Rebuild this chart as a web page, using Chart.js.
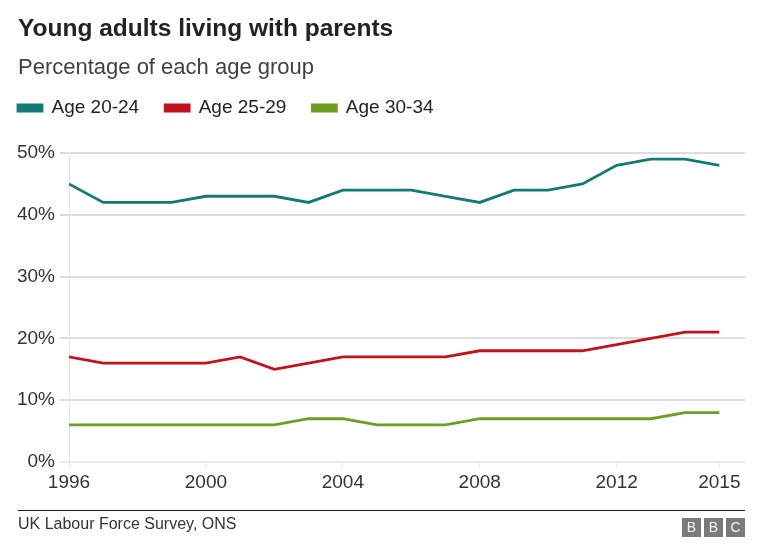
<!DOCTYPE html>
<html lang="en">
<head>
<meta charset="UTF-8" />
<title>Young adults living with parents</title>
<script src="https://cdn.jsdelivr.net/npm/chart.js"></script>
<style>
  html, body { margin: 0; padding: 0; background: #fff; }
  body { width: 770px; height: 550px; position: relative; overflow: hidden;
         font-family: "Liberation Sans", Arial, Helvetica, sans-serif; }
  #wrap { position: absolute; left: 0; top: 0; width: 770px; height: 550px; }
  .title { position: absolute; left: 18px; top: 16px; font-size: 24.5px; line-height: 24px;
           font-weight: bold; color: #222; white-space: nowrap; }
  .subtitle { position: absolute; left: 18px; top: 56px; font-size: 22px; line-height: 21px;
              color: #404040; white-space: nowrap; }
  .rule { position: absolute; left: 18px; top: 510px; width: 727px; height: 0;
          border-top: 1.5px solid #222; }
  .source { position: absolute; left: 18px; top: 516px; font-size: 16px; line-height: 16px;
            color: #333; white-space: nowrap; }
  .bbc { position: absolute; right: 25px; top: 518px; display: flex; gap: 3px; }
  .bbc span { width: 19px; height: 19px; background: #7a7a7a; color: #f4f4f4; font-size: 14px;
              line-height: 19px; text-align: center; }
</style>
</head>
<body>

<div id="wrap"><canvas id="parentsChart" width="770" height="550"></canvas></div>

<div class="title">Young adults living with parents</div>
<div class="subtitle">Percentage of each age group</div>
<div class="rule"></div>
<div class="source">UK Labour Force Survey, ONS</div>
<div class="bbc"><span>B</span><span>B</span><span>C</span></div>

<script>
  // data
  const years = [1996, 1997, 1998, 1999, 2000, 2001, 2002, 2003, 2004, 2005,
                 2006, 2007, 2008, 2009, 2010, 2011, 2012, 2013, 2014, 2015];
  const age2024 = [45, 42, 42, 42, 43, 43, 43, 42, 44, 44, 44, 43, 42, 44, 44, 45, 48, 49, 49, 48];
  const age2529 = [17, 16, 16, 16, 16, 17, 15, 16, 17, 17, 17, 17, 18, 18, 18, 18, 19, 20, 21, 21];
  const age3034 = [6, 6, 6, 6, 6, 6, 6, 7, 7, 6, 6, 6, 7, 7, 7, 7, 7, 7, 8, 8];
  const xTicks = [1996, 2000, 2004, 2008, 2012, 2015];
  const yTicks = [0, 10, 20, 30, 40, 50];

  const font = "'Liberation Sans', Arial, Helvetica, sans-serif";

  const toPoints = (vals) => vals.map((v, i) => ({ x: years[i], y: v }));

  function series(label, vals, colour) {
    return {
      label: label,
      data: toPoints(vals),
      borderColor: colour,
      backgroundColor: colour,
      borderWidth: 2.8,
      pointRadius: 0,
      tension: 0,
      fill: false
    };
  }

  // legend sits a little further left and leaves a gap above the plot
  const legendNudge = {
    id: 'legendNudge',
    beforeLayout(chart) {
      const lg = chart.legend;
      if (lg && !lg._nudged) {
        const fit = lg.fit;
        lg.fit = function () { fit.call(this); this.height += 25.5; };
        lg._nudged = true;
      }
    },
    beforeDraw(chart) {
      if (chart.legend) chart.legend.left = -8;
    }
  };

  new Chart(document.getElementById("parentsChart"), {
    type: 'line',
    data: {
      datasets: [
        series("Age 20-24", age2024, "#137a76"),
        series("Age 25-29", age2529, "#c4121c"),
        series("Age 30-34", age3034, "#6c9e22")
      ]
    },
    options: {
      responsive: false,
      animation: false,
      layout: { padding: { left: 0, right: 25, top: 72.5, bottom: 53.2 } },
      plugins: {
        legend: {
          display: true,
          position: 'top',
          align: 'start',
          labels: {
            boxWidth: 24,
            boxHeight: 6,
            padding: 26,
            color: '#222',
            font: { family: font, size: 19 }
          }
        },
        title: { display: false },
        tooltip: { enabled: false }
      },
      scales: {
        x: {
          type: 'linear',
          min: 1996,
          max: 2015.75,
          afterBuildTicks: (scale) => { scale.ticks = xTicks.map(v => ({ value: v })); },
          ticks: {
            callback: (v) => String(v),
            color: '#333',
            padding: 3,
            maxRotation: 0,
            autoSkip: false,
            font: { family: font, size: 19 }
          },
          grid: { drawOnChartArea: false, drawTicks: true, tickLength: 6, color: '#e6e6e6' },
          border: { display: false }
        },
        y: {
          min: 0,
          max: 50,
          afterBuildTicks: (scale) => { scale.ticks = yTicks.map(v => ({ value: v })); },
          afterFit: (scale) => { scale.width = 69; },
          ticks: {
            callback: (v) => v + '%',
            color: '#333',
            padding: 5,
            font: { family: font, size: 19 }
          },
          grid: {
            color: (ctx) => (ctx.tick && ctx.tick.value === 0) ? '#ececec' : '#dddddd',
            lineWidth: 2,
            tickLength: 9
          },
          border: { display: true, color: '#e6e6e6', width: 1 }
        }
      }
    },
    plugins: [legendNudge]
  });
</script>

</body>
</html>
